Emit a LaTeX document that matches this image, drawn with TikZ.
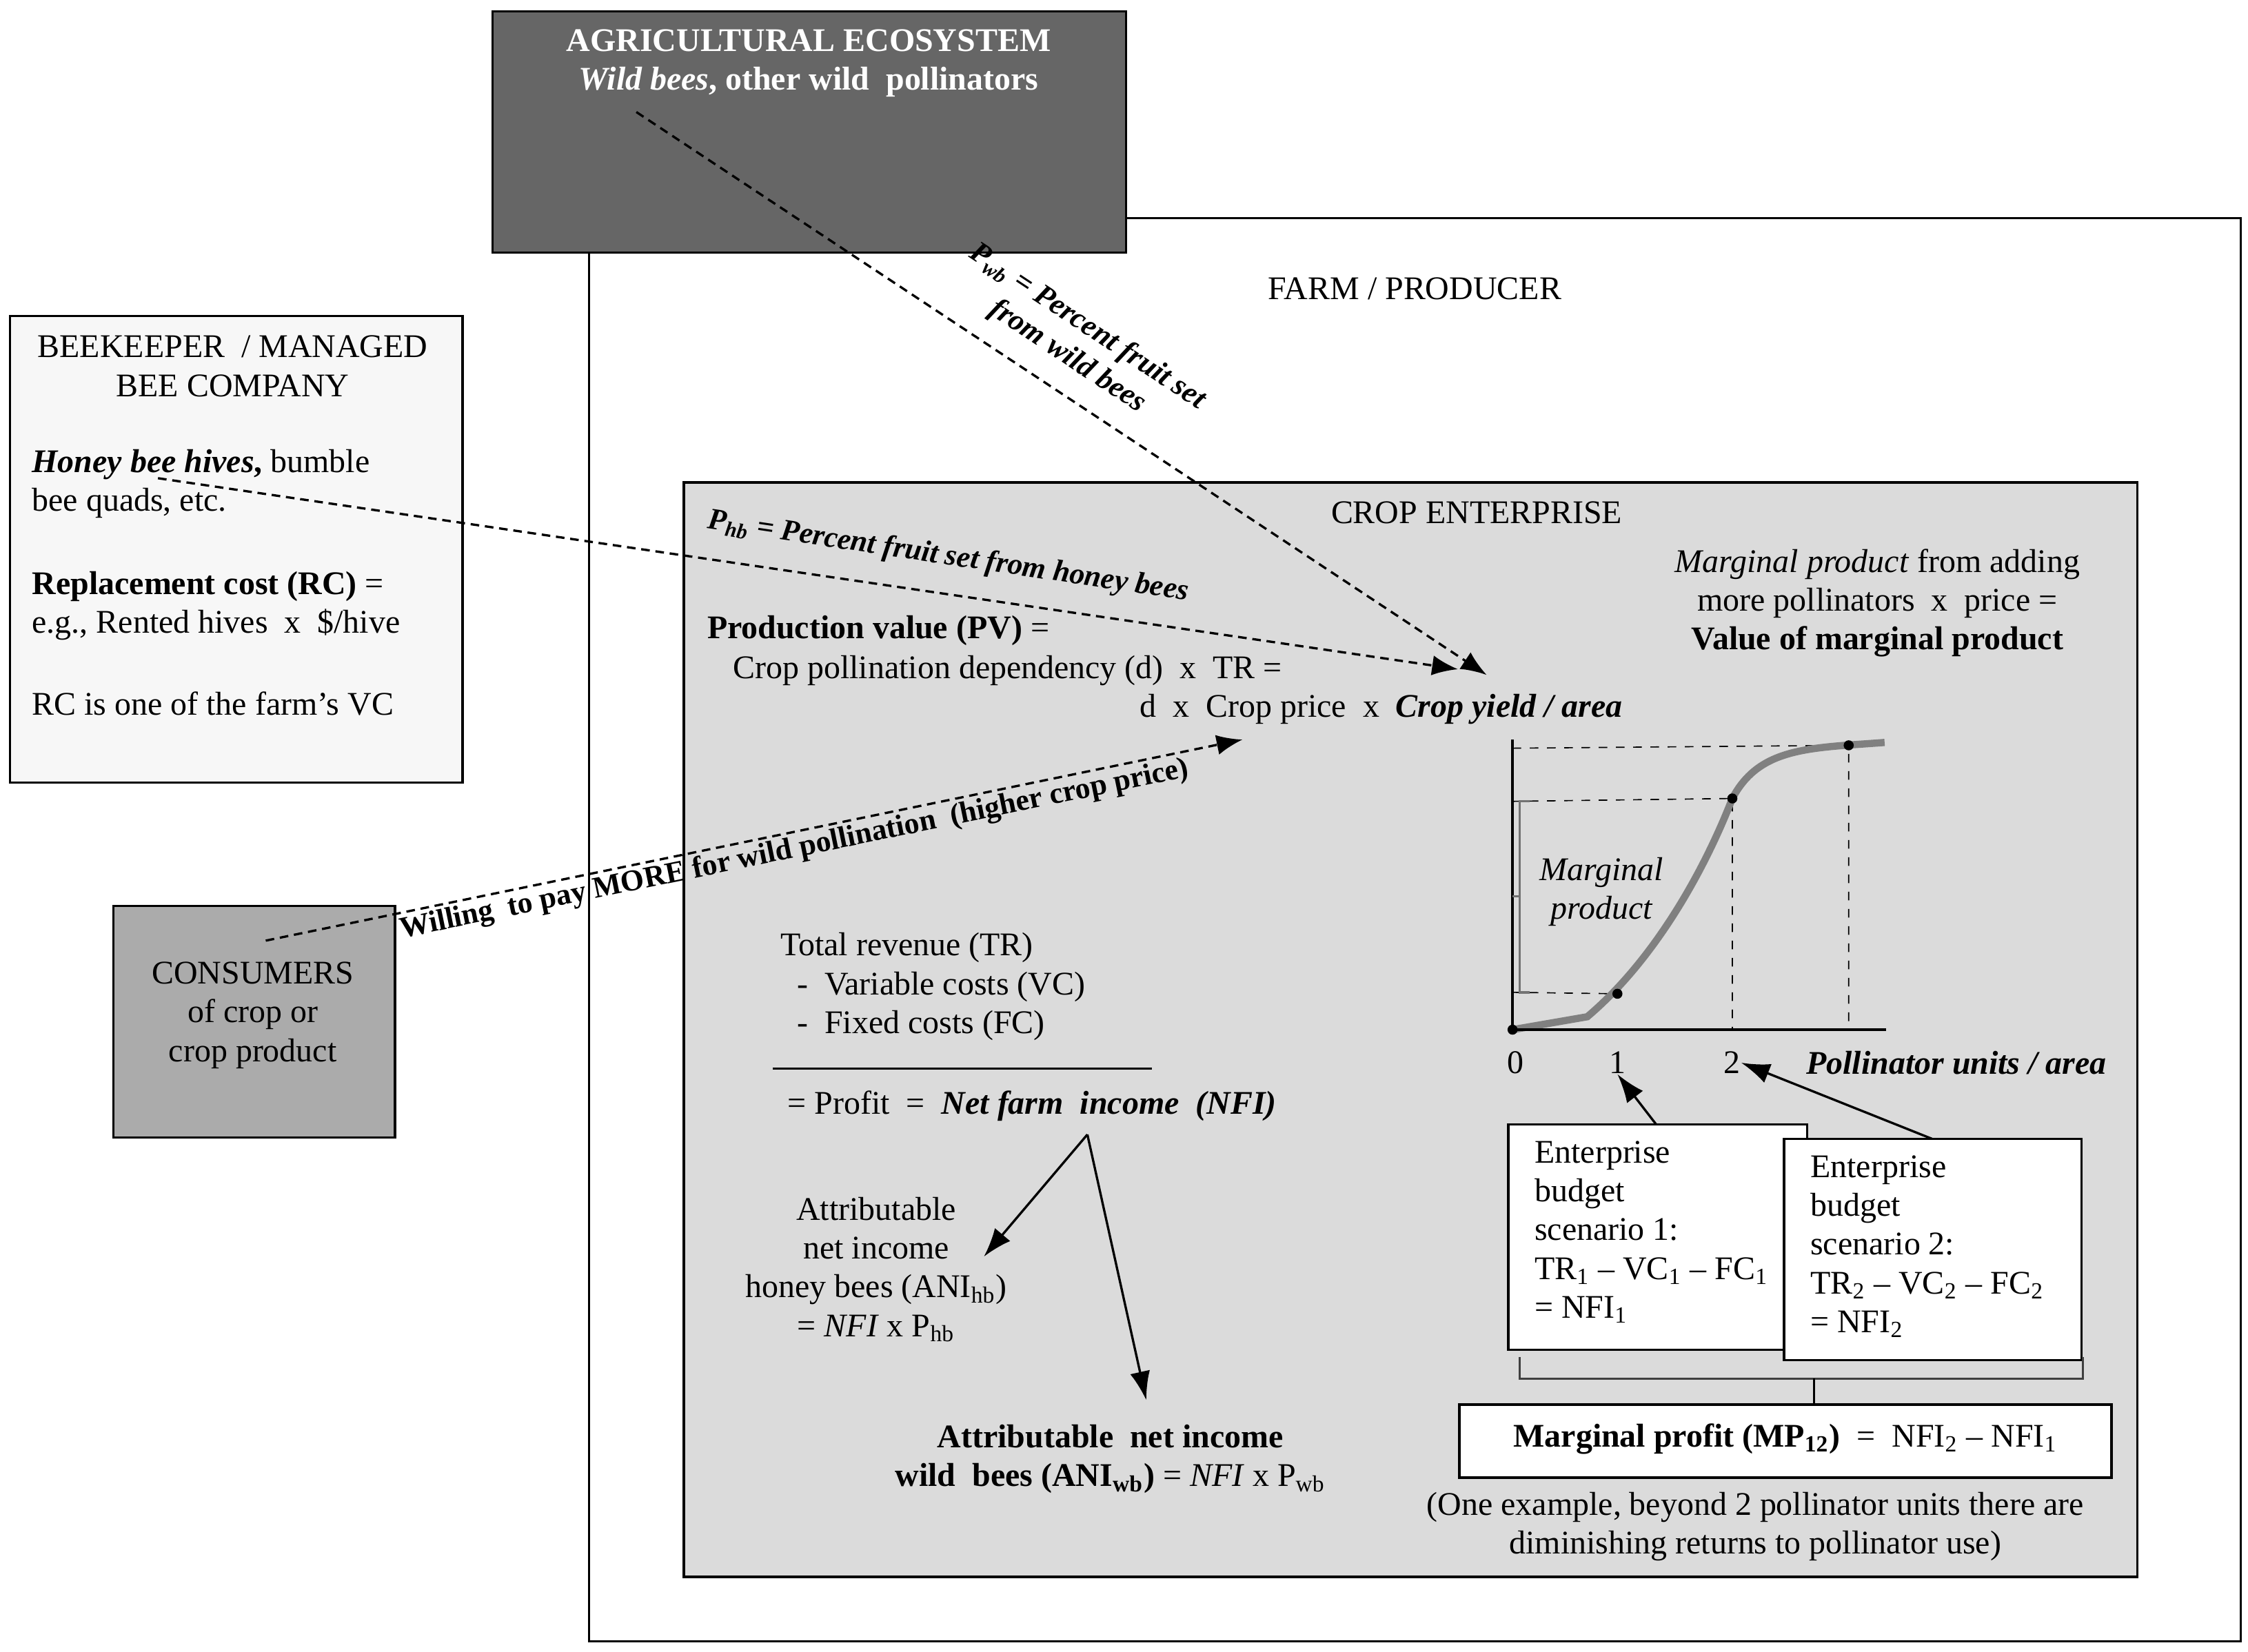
\documentclass[tikz,border=0pt]{standalone}
\usepackage{fontspec}
\setmainfont{Liberation Serif}
\usetikzlibrary{arrows.meta,decorations.pathreplacing}
\begin{document}
\fontsize{11.5}{13.5}\selectfont
\begin{tikzpicture}[x=0.5pt,y=-0.5pt,
  t/.style={inner sep=0pt,align=center},
  tl/.style={inner sep=0pt,anchor=west,align=left},
  dsharr/.style={densely dashed,thick,-{Latex[length=9pt,width=7pt]}},
  arr/.style={thick,-{Latex[length=10pt,width=7pt]}},
  gd/.style={dashed,thin}]
\useasboundingbox (0,0) rectangle (1565,1150);
% boxes
\draw[thick,fill=white] (410,152) rectangle (1560,1143);
\draw[thick,fill=black!60] (343,8) rectangle (784,176);
\node[t,text=white,font=\bfseries] (agri) at (563,44) {AGRICULTURAL ECOSYSTEM\\\textit{Wild bees}, other wild\ \ pollinators};
\node[t] (farm) at (985,201) {FARM / PRODUCER};
\draw[thick,fill=black!3] (7,220) rectangle (322,545);
\draw[thick,fill=black!33] (79,631) rectangle (275,792);
\draw[thick,fill=black!14] (476,336) rectangle (1488,1098);
\node[t] (crop) at (1028,357) {CROP ENTERPRISE};
% beekeeper text
\node[t] (bk) at (162,255) {BEEKEEPER\ \ / MANAGED\\BEE COMPANY};
\node[tl] (hb) at (22,337) {\textbf{\textit{Honey bee hives},} bumble\\bee quads, etc.};
\node[tl] (rc) at (22,422) {\textbf{Replacement cost (RC)} =\\e.g., Rented hives\ \ x\ \ \$/hive};
\node[tl] (rc2) at (22,490) {RC is one of the farm's VC};
\node[t] (cons) at (176,707) {CONSUMERS\\of crop or\\crop product};
% production value
\node[tl] (pv1) at (492,439) {\textbf{Production value (PV)} =};
\node[tl] (pv2) at (510,467) {Crop pollination dependency (d)\ \ x\ \ TR =};
\node[inner sep=0pt,anchor=east] (pv3) at (1130,494) {d\ \ x\ \ Crop price\ \ x\ \ \textit{\textbf{Crop yield / area}}};
\coordinate (tgt) at (1035,470);
\coordinate (tgt2) at (1015,466);
\coordinate (tgt3) at (865,515);
\coordinate (wbs) at (443,78);
\coordinate (hbs) at (110,333);
\coordinate (cs) at (185,655);
\draw[dsharr] (wbs) -- (tgt);
\draw[dsharr] (hbs) -- (tgt2);
\draw[dsharr] (cs) -- (tgt3);
\node[t,rotate=-33.5,font=\itshape\bfseries\fontsize{10.5}{12.5}\selectfont] (lwb) at (750,238) {P\textsubscript{wb} = Percent fruit set\\from wild bees};
\node[t,rotate=-8.5,font=\itshape\bfseries\fontsize{10.5}{12.5}\selectfont] (lhb) at (660,388) {P\textsubscript{hb} = Percent fruit set from honey bees};
\node[t,rotate=11.6,font=\bfseries\fontsize{10.5}{12.5}\selectfont] (lc) at (553,592) {Willing\ \ to pay MORE for wild pollination\ \ (higher crop price)};
% marginal product text
\node[t] (mp) at (1307,420) {\textit{Marginal product} from adding\\more pollinators\ \ x\ \ price =\\\textbf{Value of marginal product}};
% graph
\coordinate (o) at (1053,717);
\coordinate (p1) at (1126,692);
\coordinate (p2) at (1206,556);
\coordinate (p3) at (1287,519);
\draw[gd] (1053,521) -- (p3) -- (1287,717);
\draw[gd] (1053,558) -- (p2) -- (1206,717);
\draw[gd] (1053,691) -- (p1);
\draw[line width=2.5pt,black!50] (o) -- (1105,708) .. controls (1150,670) and (1185,610) .. (p2) .. controls (1225,520) and (1260,521) .. (1312,517);
\draw[thick] (1053,515) -- (o) -- (1313,717);
\foreach \p in {o,p1,p2,p3} \fill (\p) circle (3.5);
\draw[thick,black!55] (1065,558) -- (1058,558) -- (1058,691) -- (1065,691);
\draw[thick,black!55] (1058,624) -- (1053,624);
\node[t,font=\itshape] (mpl) at (1115,621) {Marginal\\product};
\node[t] (x0) at (1055,740) {0};
\node[t] (x1) at (1126,740) {1};
\node[t] (x2) at (1206,740) {2};
\node[t,font=\itshape\bfseries] (xl) at (1362,740) {Pollinator units / area};
% scenarios
\draw[thick,fill=white] (1050,783) rectangle (1258,940);
\node[tl] (s1) at (1068,858) {Enterprise\\budget\\scenario 1:\\TR\textsubscript{1} -- VC\textsubscript{1} -- FC\textsubscript{1}\\= NFI\textsubscript{1}};
\draw[thick,fill=white] (1242,793) rectangle (1449,947);
\node[tl] (s2) at (1260,868) {Enterprise\\budget\\scenario 2:\\TR\textsubscript{2} -- VC\textsubscript{2} -- FC\textsubscript{2}\\= NFI\textsubscript{2}};
\draw[arr] (1153,783) -- (x1.south);
\draw[arr] (1345,793) -- (x2.east);
\draw[thick,black!75] (1058,945) -- (1058,960) -- (1450,960) -- (1450,945);
\draw[thick] (1263,960) -- (1263,978);
\draw[thick,fill=white] (1016,978) rectangle (1470,1029);
\node[t] (mpr) at (1243,1002) {\textbf{Marginal profit (MP\textsubscript{12})}\ \ =\ \ NFI\textsubscript{2} -- NFI\textsubscript{1}};
\node[t] (note) at (1222,1063) {(One example, beyond 2 pollinator units there are\\diminishing returns to pollinator use)};
% profit
\node[tl] (tr) at (543,687) {Total revenue (TR)\\\ \ -\ \ Variable costs (VC)\\\ \ -\ \ Fixed costs (FC)};
\draw[thick] (538,744) -- (802,744);
\node[tl] (nfi) at (548,770) {= Profit\ \ =\ \ \textbf{\textit{Net farm\ \ income\ \ (NFI)}}};
\coordinate (split) at (757,790);
\node[t] (anihb) at (610,884) {Attributable\\net income\\honey bees (ANI\textsubscript{hb})\\= \textit{NFI} x P\textsubscript{hb}};
\node[t] (aniwb) at (773,1016) {\textbf{Attributable\ \ net income}\\\textbf{wild\ \ bees (ANI\textsubscript{wb})} = \textit{NFI} x P\textsubscript{wb}};
\draw[arr] (split) -- (685,875);
\draw[arr] (split) -- (798,975);
\end{tikzpicture}
\end{document}
